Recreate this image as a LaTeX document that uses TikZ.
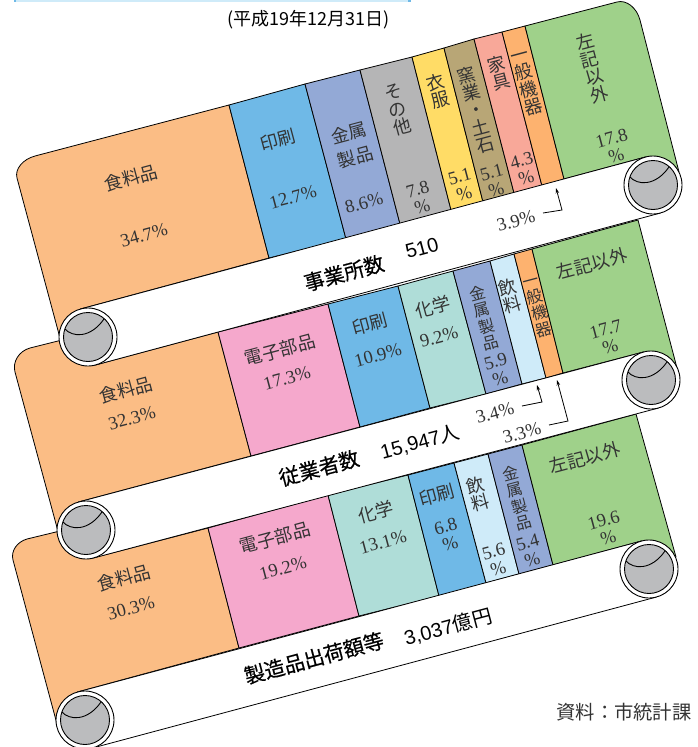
\documentclass[tikz,border=0pt]{standalone}
\usepackage{fontspec}
\setmainfont{Liberation Serif}
\newfontfamily\cjk{Noto Sans CJK JP}
\newfontfamily\cjkm[FakeBold=0.4]{Noto Sans CJK JP}
\newfontfamily\hsans{Liberation Sans}
\usetikzlibrary{arrows.meta}
\definecolor{cFood}{HTML}{FBBD85}
\definecolor{cPrint}{HTML}{6FB9E7}
\definecolor{cMetal}{HTML}{93A9D6}
\definecolor{cOther}{HTML}{B5B5B6}
\definecolor{cCloth}{HTML}{FFDC66}
\definecolor{cTan}{HTML}{B8A676}
\definecolor{cFurn}{HTML}{F8A899}
\definecolor{cMach}{HTML}{FDB26F}
\definecolor{cRest}{HTML}{9FD18A}
\definecolor{cPink}{HTML}{F5A8CC}
\definecolor{cChem}{HTML}{AFDDD8}
\definecolor{cDrink}{HTML}{CFEBF9}
\definecolor{cRoll}{HTML}{BBBCBE}
\definecolor{cTxt}{HTML}{333333}
\tikzset{
  seg/.style={draw=black,line width=0.8pt,line join=round},
  edgeline/.style={draw=black,line width=0.8pt},
  leader/.style={draw=black,line width=0.8pt,-{Stealth[length=5.5pt,width=3.5pt]}},
  lab/.style={inner sep=0pt,outer sep=0pt,align=center,rotate=15,text=cTxt},
  kj/.style={lab,font=\cjk\fontsize{18}{18}\selectfont},
  kjs/.style={lab,font=\cjk\fontsize{16}{17}\selectfont},
  num/.style={lab,font=\fontsize{18.5}{18}\selectfont},
  bandcap/.style={lab,text=black,font=\cjkm\fontsize{20.5}{20}\selectfont},
  bandnum/.style={lab,text=black,font=\hsans\fontsize{20}{20}\selectfont},
}
\newcommand\lab[4]{\node (#1) [#2] at (#3) {#4};}
\newcommand\rollerat[2]{%
  \begin{scope}[shift={(#1,#2)}]
    \filldraw[fill=white,draw=black,line width=0.9pt] (0,0) circle (29pt);
    \filldraw[fill=cRoll,draw=black,line width=0.9pt] (0,0) circle (24.5pt);
    \draw[black,line width=0.9pt] (-23,-8) .. controls (-16,0) and (2,2) .. (16,-18);
  \end{scope}}
\begin{document}
\begin{tikzpicture}[x=1pt,y=-1pt]
\useasboundingbox (0,0) rectangle (698,747);
\fill[cDrink] (14,0) rectangle (411,1.5);
\fill[cPrint] (14,0) rectangle (16,1.5);
\fill[cPrint] (408,0) rectangle (411,1.5);

% ---- third banner
\path[seg,fill=cFood] (57,724) -- (13,560) .. controls (10.6,551.2) and (17,541.8) .. (27,539) -- (60,531) -- (92.5,558) -- (208,528) -- (239,648) -- (77.5,692) -- cycle;
\path[seg,fill=cPink] (208,528) -- (328,495) -- (359,616) -- (239,648) -- cycle;
\path[seg,fill=cChem] (328,495) -- (408,475) -- (439,596) -- (359,616) -- cycle;
\path[seg,fill=cPrint] (408,475) -- (454,463) -- (486,583) -- (439,596) -- cycle;
\path[seg,fill=cDrink] (454,463) -- (488,454) -- (519,574) -- (486,583) -- cycle;
\path[seg,fill=cMetal] (488,454) -- (522,445) -- (553,565) -- (519,574) -- cycle;
\path[seg,fill=cRest] (522,445) -- (636,414) -- (676,557) -- (649,569) -- (641.5,541) -- (553,565) -- cycle;
\fill[white] (77.5,692) -- (641.5,541) -- (656.5,597) -- (92.5,748) -- cycle;
\draw[edgeline] (77.5,692) -- (641.5,541);
\draw[edgeline] (92.5,748) -- (656.5,597);
\rollerat{85}{720}
\rollerat{649}{569}

% ---- second banner
\path[seg,fill=cFood] (59,535) -- (15,372) .. controls (12.25,361.8) and (19,351) .. (30,348) -- (62,340) -- (95,365) -- (218,332) -- (251,456) -- (78.5,502) -- cycle;
\path[seg,fill=cPink] (218,332) -- (328,304) -- (360,427) -- (251,456) -- cycle;
\path[seg,fill=cPrint] (328,304) -- (398,286) -- (430,408) -- (360,427) -- cycle;
\path[seg,fill=cChem] (398,286) -- (453,271) -- (486,394) -- (430,408) -- cycle;
\path[seg,fill=cMetal] (453,271) -- (490,261) -- (522,384) -- (486,394) -- cycle;
\path[seg,fill=cDrink] (490,261) -- (514,254) -- (546,378) -- (522,384) -- cycle;
\path[seg,fill=cMach] (514,254) -- (532,249) -- (563,373) -- (546,378) -- cycle;
\path[seg,fill=cRest] (532,249) -- (638,220) -- (677,368) -- (651,380) -- (643.5,352) -- (563,373) -- cycle;
\fill[white] (78.5,502) -- (643.5,352) -- (658.5,408) -- (93.5,558) -- cycle;
\draw[edgeline] (78.5,502) -- (643.5,352);
\draw[edgeline] (93.5,558) -- (658.5,408);
\rollerat{86}{530}
\rollerat{651}{380}

% ---- first banner
\path[seg,fill=cFood] (60,338) -- (17,178) .. controls (14.6,169.2) and (22.7,159.3) .. (35,156) -- (229,105) -- (269,258) -- (80.5,309) -- cycle;
\path[seg,fill=cPrint] (229,105) -- (305,84) -- (346,239) -- (269,258) -- cycle;
\path[seg,fill=cMetal] (305,84) -- (360,70) -- (400,224) -- (346,239) -- cycle;
\path[seg,fill=cOther] (360,70) -- (412,57) -- (451,210) -- (400,224) -- cycle;
\path[seg,fill=cCloth] (412,57) -- (444,48) -- (483,202) -- (451,210) -- cycle;
\path[seg,fill=cTan] (444,48) -- (474,39) -- (514,193) -- (483,202) -- cycle;
\path[seg,fill=cFurn] (474,39) -- (502,32) -- (542,186) -- (514,193) -- cycle;
\path[seg,fill=cMach] (502,32) -- (525,26) -- (564,179) -- (542,186) -- cycle;
\path[seg,fill=cRest] (525,26) -- (617,2) .. controls (626.4,-0.5) and (636.7,7.6) .. (640,20) -- (679,172) -- (653,185) -- (645.5,157) -- (564,179) -- cycle;
\fill[white] (80.5,309) -- (645.5,157) -- (660.5,213) -- (95.5,365) -- cycle;
\draw[edgeline] (80.5,309) -- (645.5,157);
\draw[edgeline] (95.5,365) -- (660.5,213);
\rollerat{88}{337}
\rollerat{653}{185}

% ---- title and source
\node (title) [inner sep=0pt,text=black,font=\cjk\fontsize{18}{18}\selectfont] at (308.5,20) {(平成19年12月31日)};
\node (source) [inner sep=0pt,text=cTxt,font=\cjk\fontsize{19.3}{20}\selectfont] at (624,712) {資料：市統計課};

% ---- banner 1 labels
\lab{a1}{kj}{131,178}{食料品}
\lab{a2}{num}{144,235}{34.7\%}
\lab{a3}{kj}{278,140}{印刷}
\lab{a4}{num}{293,197}{12.7\%}
\lab{a5}{kj}{352,145}{金属\\[7pt]製品}
\lab{a6}{num}{364,203}{8.6\%}
\lab{a7}{kj}{398,110}{そ\\の\\他}
\lab{a8}{num}{420,198}{7.8\\\%}
\lab{a9}{kj}{438,91}{衣\\服}
\lab{a10}{num}{462,185}{5.1\\\%}
\lab{a11}{kj}{476,110}{窯\\業\\・\\土\\石}
\lab{a12}{num}{494,181}{5.1\\\%}
\lab{a13}{kj}{499,73}{家\\具}
\lab{a14}{num}{524,169}{4.3\\\%}
\lab{a15}{kj}{527,84}{一\\般\\機\\器}
\lab{a16}{kj}{592,68}{左\\記\\以\\外}
\lab{a17}{num}{614,147}{17.8\\\%}
\lab{a18}{num}{516,221}{3.9\%}
\lab{a19}{bandcap}{344,273}{事業所数}
\lab{a20}{bandnum}{422,248}{510}

% ---- banner 2 labels
\lab{b1}{kj}{126,390}{食料品}
\lab{b2}{num}{132,418}{32.3\%}
\lab{b3}{kj}{280,350}{電子部品}
\lab{b4}{num}{287,378}{17.3\%}
\lab{b5}{kj}{370,324}{印刷}
\lab{b6}{num}{378,355}{10.9\%}
\lab{b7}{kj}{433,307}{化学}
\lab{b8}{num}{439,337}{9.2\%}
\lab{b9}{kjs}{484,318}{金\\属\\製\\品}
\lab{b10}{num}{498,370}{5.9\\\%}
\lab{b11}{kj}{510,296}{飲\\料}
\lab{b12}{kjs}{538,308}{一\\般\\機\\器}
\lab{b13}{kj}{592,264}{左記以外}
\lab{b14}{num}{608,338}{17.7\\\%}
\lab{b15}{num}{495,413}{3.4\%}
\lab{b16}{num}{522,433}{3.3\%}
\lab{b17}{bandcap}{319,468}{従業者数}
\lab{b18}{bandnum}{420,442}{15,947{\cjk 人}}

% ---- banner 3 labels
\lab{c1}{kj}{124,578}{食料品}
\lab{c2}{num}{131,608}{30.3\%}
\lab{c3}{kj}{275,538}{電子部品}
\lab{c4}{num}{283,568}{19.2\%}
\lab{c5}{kj}{376,512}{化学}
\lab{c6}{num}{383,542}{13.1\%}
\lab{c7}{kj}{437,495}{印刷}
\lab{c8}{num}{448,535}{6.8\\\%}
\lab{c9}{kj}{478,494}{飲\\料}
\lab{c10}{num}{496,560}{5.6\\\%}
\lab{c11}{kjs}{517,498}{金\\属\\製\\品}
\lab{c12}{num}{530,551}{5.4\\\%}
\lab{c13}{kj}{585,458}{左記以外}
\lab{c14}{num}{606,529}{19.6\\\%}
\lab{c15}{bandcap}{314,658}{製造品出荷額等}
\lab{c16}{bandnum}{448,627}{3,037{\cjk 億円}}

% ---- leaders
\coordinate (p1) at (543,213); \coordinate (p2) at (562,210); \coordinate (p3) at (556,188);
\draw[leader] (p1) -- (p2) -- (p3);
\coordinate (q1) at (522,406); \coordinate (q2) at (542,402); \coordinate (q3) at (537,385);
\draw[leader] (q1) -- (q2) -- (q3);
\coordinate (r1) at (549,425); \coordinate (r2) at (568,421); \coordinate (r3) at (557,380);
\draw[leader] (r1) -- (r2) -- (r3);
\end{tikzpicture}
\end{document}
